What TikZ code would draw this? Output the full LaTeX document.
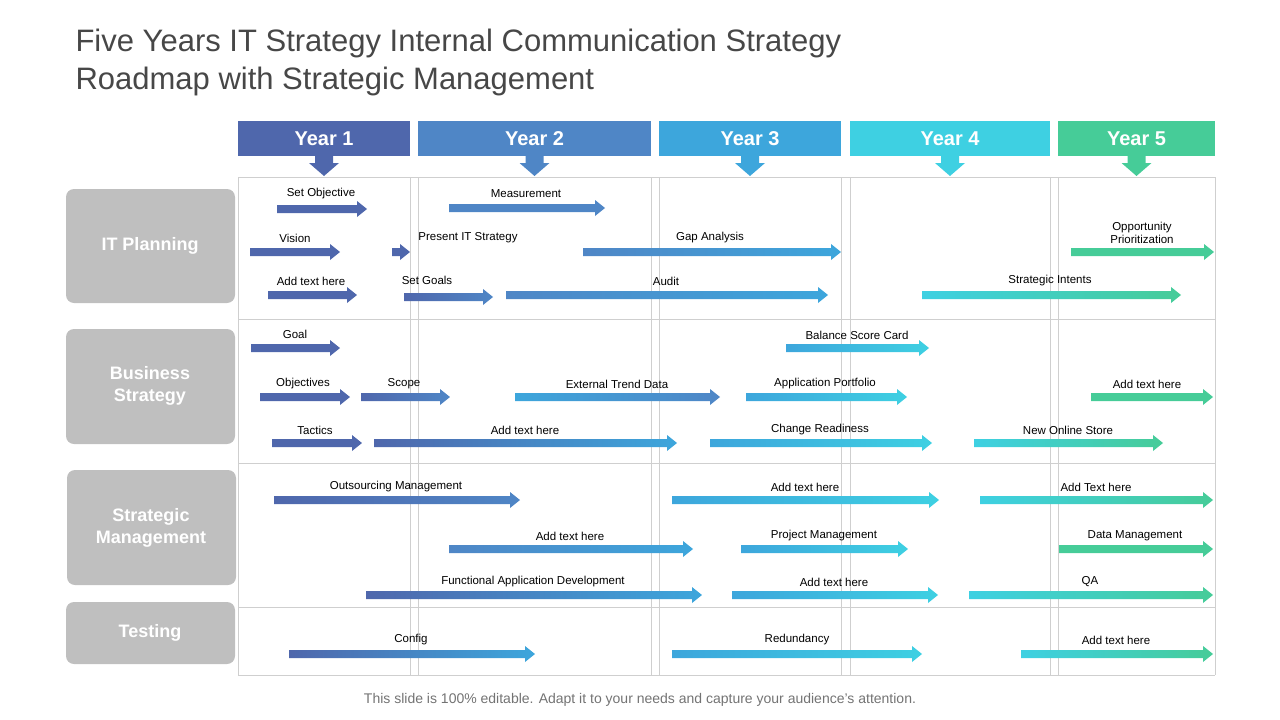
\documentclass[tikz,border=0pt]{standalone}
\usepackage{fontspec}
\setmainfont{Liberation Sans}
\definecolor{ya}{HTML}{4F67AC}
\definecolor{yb}{HTML}{4F86C6}
\definecolor{yc}{HTML}{3DA6DC}
\definecolor{yd}{HTML}{3ED0E2}
\definecolor{ye}{HTML}{46CC98}
\definecolor{grid}{HTML}{CFCFCF}
\definecolor{side}{HTML}{BFBFBF}
\newcommand\arw[8]{%
  \shade[left color=#4,right color=#5] (#1,{#3-4}) -- ({#2-10},{#3-4}) -- ({#2-10},{#3-8}) -- (#2,#3) -- ({#2-10},{#3+8}) -- ({#2-10},{#3+4}) -- (#1,{#3+4}) -- cycle;
  \node[lbl] at (#6,#7) {#8};}
\newcommand\yr[5]{%
  \fill[#4] (#1,121) rectangle (#2,156);
  \fill[#4] ({(#1+#2)/2-9},156) -- ({(#1+#2)/2+9},156) -- ({(#1+#2)/2+9},163) -- ({(#1+#2)/2+15},163) -- ({(#1+#2)/2},176) -- ({(#1+#2)/2-15},163) -- ({(#1+#2)/2-9},163) -- cycle;
  \node[yl] at ({(#1+#2)/2},139) {#3};}
\begin{document}
\begin{tikzpicture}[x=1pt,y=-1pt,
  lbl/.style={font=\fontsize{11.5}{13}\selectfont,inner sep=0pt,align=center},
  yl/.style={font=\fontsize{20}{22}\selectfont\bfseries,text=white},
  sidebox/.style={fill=side,rounded corners=8pt},
  sl/.style={font=\fontsize{18}{22}\selectfont\bfseries,text=white,align=center}]
\useasboundingbox (0,0) rectangle (1280,720);
% title
\node[anchor=west,text=black!72,font=\fontsize{31}{38}\selectfont,align=left] at (72,62)
  {Five Years IT Strategy Internal Communication Strategy\\Roadmap with Strategic Management};
% headers
\yr{238}{410}{Year 1}{ya}{}
\yr{418}{651}{Year 2}{yb}{}
\yr{659}{841}{Year 3}{yc}{}
\yr{850}{1050}{Year 4}{yd}{}
\yr{1058}{1215}{Year 5}{ye}{}
% grid
\foreach \x in {238,410,418,651,659,841,850,1050,1058,1215}
  \draw[grid] (\x,177) -- (\x,675);
\foreach \y in {177,319,463,607,675}
  \draw[grid] (238,\y) -- (1215,\y);
% side labels
\fill[sidebox] (66,189) rectangle (235,303); \node[sl] at (150,246) {IT Planning};
\fill[sidebox] (66,329) rectangle (235,444); \node[sl] at (150,386) {Business\\Strategy};
\fill[sidebox] (67,470) rectangle (236,585); \node[sl] at (151,528) {Strategic\\Management};
\fill[sidebox] (66,602) rectangle (235,664); \node[sl] at (150,633) {Testing};
% IT planning
\arw{277}{367}{209}{ya}{ya}{321}{194}{Set Objective}
\arw{449}{605}{208}{yb}{yb}{526}{194}{Measurement}
\arw{250}{340}{252}{ya}{ya}{295}{238}{Vision}
\arw{392}{410}{252}{ya}{ya}{468}{238}{Present IT Strategy}
\arw{583}{841}{252}{yb}{yc}{710}{238}{Gap Analysis}
\arw{1071}{1214}{252}{ye}{ye}{1142}{233}{Opportunity\\Prioritization}
\arw{268}{357}{295}{ya}{ya}{311}{281}{Add text here}
\arw{404}{493}{297}{ya}{yb}{427}{280}{Set Goals}
\arw{506}{828}{295}{yb}{yc}{666}{281}{Audit}
\arw{922}{1181}{295}{yd}{ye}{1050}{281}{Strategic Intents}
% business
\arw{251}{340}{348}{ya}{ya}{295}{334}{Goal}
\arw{786}{929}{348}{yc}{yd}{857}{335}{Balance Score Card}
\arw{260}{350}{397}{ya}{ya}{303}{384}{Objectives}
\arw{361}{450}{397}{ya}{yb}{404}{384}{Scope}
\arw{515}{720}{397}{yc}{yb}{617}{384}{External Trend Data}
\arw{746}{907}{397}{yc}{yd}{825}{384}{Application Portfolio}
\arw{1091}{1213}{397}{ye}{ye}{1147}{384}{Add text here}
\arw{272}{362}{443}{ya}{ya}{315}{430}{Tactics}
\arw{374}{677}{443}{ya}{yc}{525}{430}{Add text here}
\arw{710}{932}{443}{yc}{yd}{820}{430}{Change Readiness}
\arw{974}{1163}{443}{yd}{ye}{1068}{430}{New Online Store}
% strategic mgmt
\arw{274}{520}{500}{ya}{yb}{396}{487}{Outsourcing Management}
\arw{672}{939}{500}{yc}{yd}{805}{487}{Add text here}
\arw{980}{1213}{500}{yd}{ye}{1096}{487}{Add Text here}
\arw{449}{693}{549}{yb}{yc}{570}{536}{Add text here}
\arw{741}{908}{549}{yc}{yd}{824}{536}{Project Management}
\arw{1059}{1213}{549}{ye}{ye}{1135}{536}{Data Management}
\arw{366}{702}{595}{ya}{yc}{533}{582}{Functional Application Development}
\arw{732}{938}{595}{yc}{yd}{834}{582}{Add text here}
\arw{969}{1213}{595}{yd}{ye}{1090}{582}{QA}
% testing
\arw{289}{535}{654}{ya}{yc}{411}{640}{Config}
\arw{672}{922}{654}{yc}{yd}{797}{640}{Redundancy}
\arw{1021}{1213}{654}{yd}{ye}{1116}{640}{Add text here}
% footer
\node[text=black!55,font=\fontsize{14}{16}\selectfont] at (640,700)
  {This slide is 100\% editable. Adapt it to your needs and capture your audience’s attention.};
\end{tikzpicture}
\end{document}
